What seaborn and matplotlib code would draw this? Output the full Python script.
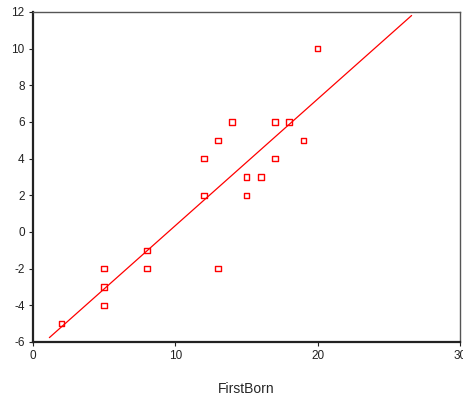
import numpy as np
import pandas as pd
import matplotlib
matplotlib.use('Agg')
import matplotlib.pyplot as plt
import seaborn as sns

# データ
first_born = [2, 5, 5, 5, 8, 8, 12, 12, 13, 13, 14, 15, 15, 16, 17, 17, 18, 19, 20]
diff_vals = [-5, -2, -3, -4, -1, -2, 4, 2, 5, -2, 6, 3, 2, 3, 6, 4, 6, 5, 10]
fit_x_range = [1.15, 26.6]

df = pd.DataFrame({'FirstBorn': first_born, 'y': diff_vals})

# 回帰直線
slope, intercept = np.polyfit(df['FirstBorn'], df['y'], 1)
line_x = np.array(fit_x_range)
line_df = pd.DataFrame({'FirstBorn': line_x, 'y': slope * line_x + intercept})

sns.set_style('white')
plt.rcParams['font.family'] = ['Liberation Sans', 'DejaVu Sans']
plt.rcParams['axes.unicode_minus'] = False

fig = plt.figure(figsize=(4.63, 4.00), dpi=100)
ax = fig.add_axes([33 / 463, 1 - 342 / 400, 427 / 463, 330 / 400])

sns.lineplot(data=line_df, x='FirstBorn', y='y', color='red', linewidth=0.9, ax=ax)
sns.scatterplot(data=df, x='FirstBorn', y='y', marker='s', s=16,
                facecolor='none', edgecolor='red', linewidth=1.0, ax=ax)

ax.set_xlim(0, 30)
ax.set_ylim(-6, 12)
ax.set_xticks([0, 10, 20, 30])
ax.set_yticks(range(-6, 13, 2))
ax.set_xlabel('FirstBorn', fontsize=10, labelpad=14)
ax.set_ylabel('')
ax.tick_params(axis='both', labelsize=8.5, length=3, width=0.8, direction='out',
               colors='#222222', bottom=True, left=True, pad=3)

for side in ['left', 'bottom']:
    ax.spines[side].set_color('#222222')
    ax.spines[side].set_linewidth(1.6)
for side in ['top', 'right']:
    ax.spines[side].set_color('#555555')
    ax.spines[side].set_linewidth(1.0)

fig.savefig('out.png', dpi=100)
plt.close(fig)
